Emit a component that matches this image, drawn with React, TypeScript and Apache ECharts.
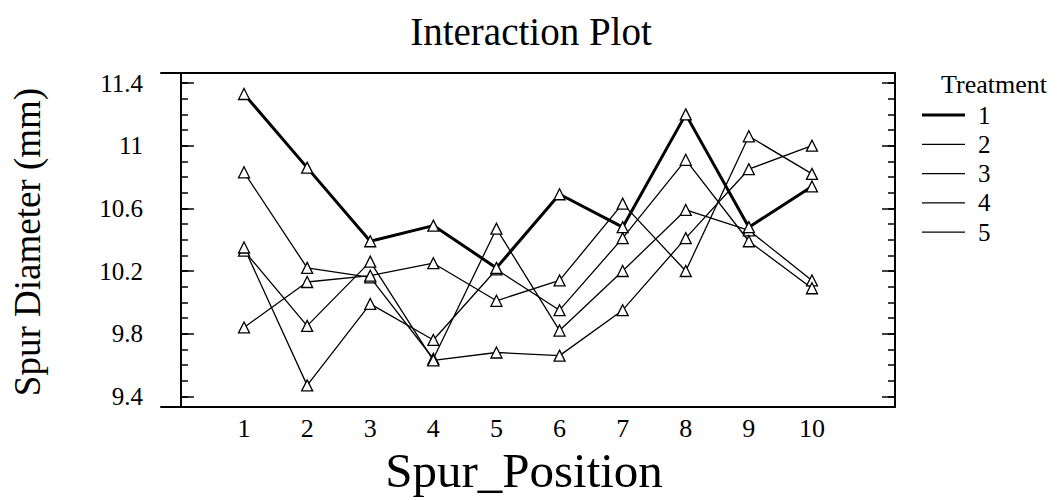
import React, { useEffect, useRef } from "react";
import * as echarts from "echarts";

const positions = [1, 2, 3, 4, 5, 6, 7, 8, 9, 10];
const treatments = ["1", "2", "3", "4", "5"];
const t1 = [11.33, 10.86, 10.39, 10.49, 10.22, 10.69, 10.48, 11.2, 10.48, 10.74];
const t2 = [10.83, 10.22, 10.16, 9.64, 10.47, 9.82, 10.2, 10.59, 10.46, 10.14];
const t3 = [10.33, 9.85, 10.26, 9.63, 9.68, 9.66, 9.95, 10.41, 10.85, 11.0];
const t4 = [9.84, 10.13, 10.17, 10.25, 10.01, 10.14, 10.63, 10.2, 11.06, 10.82];
const t5 = [10.35, 9.47, 9.99, 9.76, 10.21, 9.95, 10.41, 10.91, 10.39, 10.09];
const yMajorTicks = [9.4, 9.8, 10.2, 10.6, 11, 11.4];
const yMinorTicks = [
  9.4, 9.5, 9.6, 9.7, 9.8, 9.9, 10.0, 10.1, 10.2, 10.3, 10.4, 10.5, 10.6, 10.7,
  10.8, 10.9, 11.0, 11.1, 11.2, 11.3, 11.4,
];
const titleText = "Interaction Plot";
const xName = "Spur_Position";
const yName = "Spur Diameter (mm)";
const legendTitle = "Treatment";

const FONT = "'Liberation Serif', 'Times New Roman', serif";
const X_MIN = -0.316;
const X_MAX = 11.316;
const Y_MIN = 9.332;
const Y_MAX = 11.464;

export default function App() {
  const ref = useRef<HTMLDivElement>(null);
  useEffect(() => {
    if (!ref.current) return;
    const chart = echarts.init(ref.current, null, { renderer: "svg" });
    const allSeries = [t1, t2, t3, t4, t5];
    const axisLineStyle = { color: "#000", width: 2 };
    const yBase = (position: string, ticks: number[], len: number, showLine: boolean, labels: boolean) => ({
      type: "value",
      position,
      min: Y_MIN,
      max: Y_MAX,
      splitLine: { show: false },
      axisLine: { show: showLine, lineStyle: axisLineStyle },
      axisTick: {
        show: true,
        inside: true,
        length: len,
        customValues: ticks,
        lineStyle: { color: "#000", width: 1.5 },
      },
      axisLabel: labels
        ? {
            show: true,
            customValues: yMajorTicks,
            color: "#000",
            fontFamily: FONT,
            fontSize: 25,
            margin: 18,
          }
        : { show: false },
    });
    const option: any = {
      animation: false,
      backgroundColor: "#fff",
      grid: { left: 161, right: 165, top: 73, bottom: 93, containLabel: false },
      xAxis: [
        {
          type: "value",
          position: "bottom",
          min: X_MIN,
          max: X_MAX,
          splitLine: { show: false },
          axisLine: { show: true, lineStyle: axisLineStyle },
          axisTick: { show: false },
          axisLabel: {
            show: true,
            customValues: positions,
            color: "#000",
            fontFamily: FONT,
            fontSize: 26,
            margin: 8,
          },
        },
        {
          type: "value",
          position: "top",
          min: X_MIN,
          max: X_MAX,
          splitLine: { show: false },
          axisLine: { show: true, lineStyle: axisLineStyle },
          axisTick: { show: false },
          axisLabel: { show: false },
        },
      ],
      yAxis: [
        yBase("left", yMajorTicks, 13, true, true),
        yBase("left", yMinorTicks, 7, false, false),
        yBase("right", yMajorTicks, 13, true, false),
        yBase("right", yMinorTicks, 7, false, false),
      ],
      series: allSeries.map((vals, i) => ({
        name: treatments[i],
        type: "line",
        xAxisIndex: 0,
        yAxisIndex: 0,
        data: positions.map((p, j) => [p, vals[j]]),
        symbol: "triangle",
        symbolSize: 11,
        showSymbol: true,
        z: i === 0 ? 3 : 2,
        lineStyle: { color: "#000", width: i === 0 ? 3 : 1.3 },
        itemStyle: { color: "#fff", borderColor: "#000", borderWidth: 1.3 },
        emphasis: { disabled: true },
      })),
      graphic: [
        {
          type: "text",
          x: 531,
          y: 31,
          style: {
            text: titleText,
            fontFamily: FONT,
            fontSize: 39,
            fill: "#000",
            align: "center",
            verticalAlign: "middle",
          },
        },
        {
          type: "text",
          x: 524,
          y: 470,
          style: {
            text: xName,
            fontFamily: FONT,
            fontSize: 49,
            fill: "#000",
            align: "center",
            verticalAlign: "middle",
          },
        },
        {
          type: "text",
          x: 27,
          y: 242,
          rotation: Math.PI / 2,
          style: {
            text: yName,
            fontFamily: FONT,
            fontSize: 37,
            fill: "#000",
            align: "center",
            verticalAlign: "middle",
          },
        },
        {
          type: "text",
          x: 941,
          y: 84,
          style: {
            text: legendTitle,
            fontFamily: FONT,
            fontSize: 26,
            fill: "#000",
            align: "left",
            verticalAlign: "middle",
          },
        },
        ...treatments.flatMap((name, i) => [
          {
            type: "line",
            shape: { x1: 922, y1: 115 + i * 29.3, x2: 965, y2: 115 + i * 29.3 },
            style: { stroke: "#000", lineWidth: i === 0 ? 3 : 1.3 },
          },
          {
            type: "text",
            x: 978,
            y: 115 + i * 29.3,
            style: {
              text: name,
              fontFamily: FONT,
              fontSize: 25,
              fill: "#000",
              align: "left",
              verticalAlign: "middle",
            },
          },
        ]),
      ],
    };
    chart.setOption(option);
    return () => chart.dispose();
  }, []);
  return (
    <div
      ref={ref}
      style={{ position: "fixed", left: 0, top: 0, width: 1060, height: 500, background: "#fff" }}
    />
  );
}
